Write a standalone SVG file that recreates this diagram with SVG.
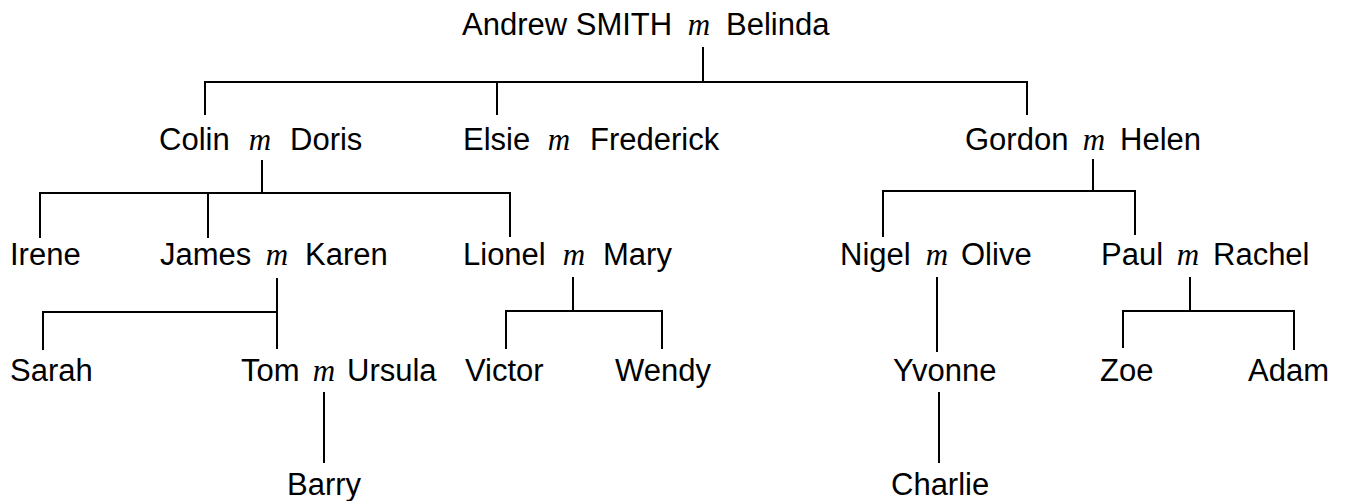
<svg xmlns="http://www.w3.org/2000/svg" width="1355" height="501" viewBox="0 0 1355 501">
<style>
.n{font-family:"Liberation Sans",Arial,sans-serif;font-size:31px;fill:#000}
.m{font-family:"Liberation Serif","Times New Roman",serif;font-style:italic;font-size:31px;fill:#000;text-anchor:middle}
.c{fill:none;stroke:#000;stroke-width:2;stroke-linejoin:miter}
</style>
<rect width="1355" height="501" fill="#fff"/>
<g id="connectors" class="c">
<path d="M703 47V82M205 115V82H1027V115M497 82V115"/>
<path d="M262 160V193M40 238V193H510V237M208 193V238"/>
<path d="M277 278V349M43 350V312H277"/>
<path d="M324 392V463"/>
<path d="M573 277V311M506 349V311H662V349"/>
<path d="M1093 159V191M883 237V191H1135V235"/>
<path d="M937 277V352M939 392V463"/>
<path d="M1190 277V311M1123 348V311H1294V350"/>
</g>
<g id="andrew"><text class="n" x="462" y="35">Andrew SMITH</text><text class="m" x="699" y="35">m</text><text class="n" x="726" y="35">Belinda</text></g>
<g id="colin"><text class="n" x="159" y="150">Colin</text><text class="m" x="260" y="150">m</text><text class="n" x="290" y="150">Doris</text></g>
<g id="elsie"><text class="n" x="463" y="150">Elsie</text><text class="m" x="559" y="150">m</text><text class="n" x="590" y="150">Frederick</text></g>
<g id="gordon"><text class="n" x="965" y="150">Gordon</text><text class="m" x="1094" y="150">m</text><text class="n" x="1120" y="150">Helen</text></g>
<g id="irene"><text class="n" x="10" y="265">Irene</text></g>
<g id="james"><text class="n" x="160" y="265">James</text><text class="m" x="277" y="265">m</text><text class="n" x="305" y="265">Karen</text></g>
<g id="lionel"><text class="n" x="463" y="265">Lionel</text><text class="m" x="574" y="265">m</text><text class="n" x="603" y="265">Mary</text></g>
<g id="nigel"><text class="n" x="840" y="265">Nigel</text><text class="m" x="937" y="265">m</text><text class="n" x="961" y="265">Olive</text></g>
<g id="paul"><text class="n" x="1101" y="265">Paul</text><text class="m" x="1188" y="265">m</text><text class="n" x="1213" y="265">Rachel</text></g>
<g id="sarah"><text class="n" x="10" y="381">Sarah</text></g>
<g id="tom"><text class="n" x="241" y="381">Tom</text><text class="m" x="324" y="381">m</text><text class="n" x="347" y="381">Ursula</text></g>
<g id="victor"><text class="n" x="465" y="381">Victor</text></g>
<g id="wendy"><text class="n" x="615" y="381">Wendy</text></g>
<g id="yvonne"><text class="n" x="893" y="381">Yvonne</text></g>
<g id="zoe"><text class="n" x="1100" y="381">Zoe</text></g>
<g id="adam"><text class="n" x="1248" y="381">Adam</text></g>
<g id="barry"><text class="n" x="287" y="495">Barry</text></g>
<g id="charlie"><text class="n" x="891" y="495">Charlie</text></g>
</svg>
